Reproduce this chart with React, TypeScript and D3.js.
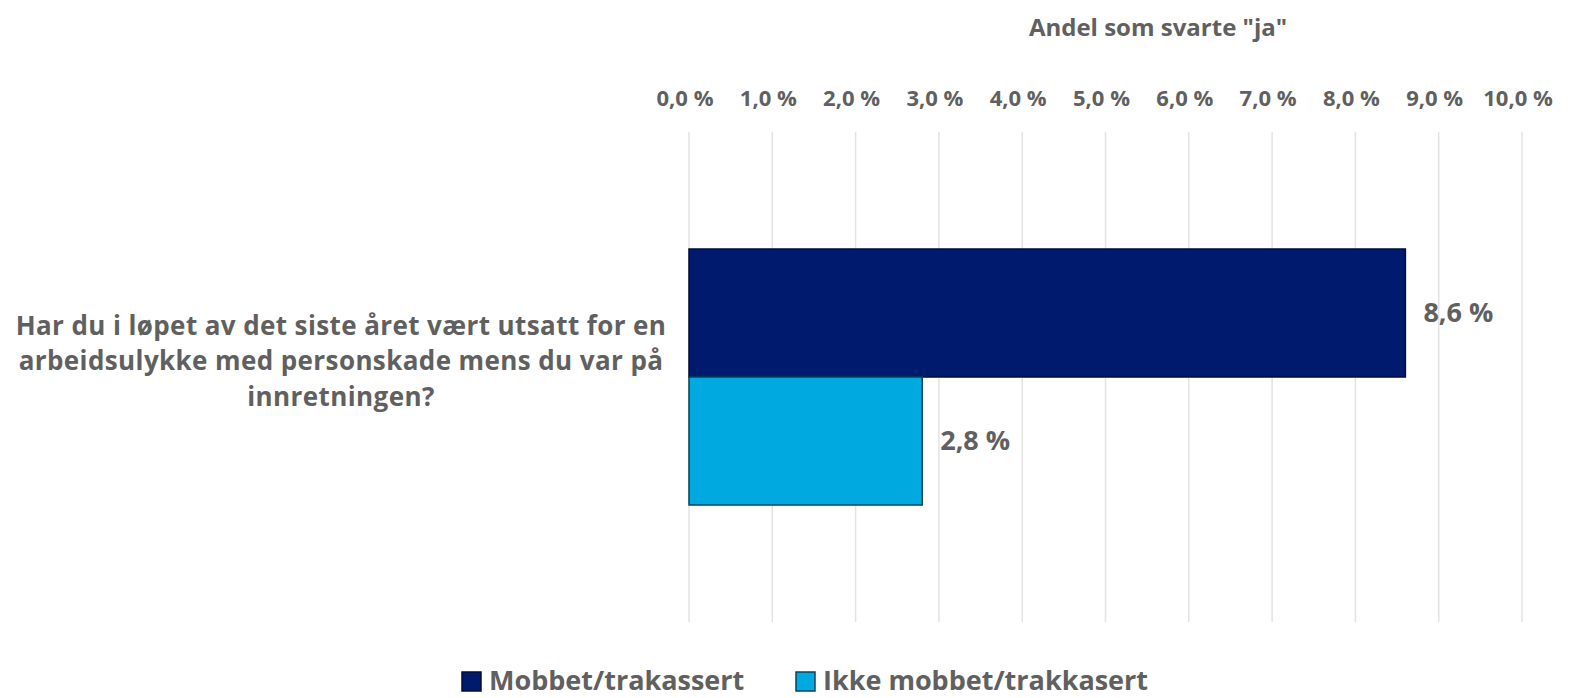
import * as d3 from "d3";

const categories = ["Har du i løpet av det siste året vært utsatt for en arbeidsulykke med personskade mens du var på innretningen?"];
const categoryLines = [["Har du i løpet av det siste året vært utsatt for en", "arbeidsulykke med personskade mens du var på", "innretningen?"]];
const seriesNames = ["Mobbet/trakassert", "Ikke mobbet/trakkasert"];
const seriesValues = [[8.6], [2.8]];
const seriesColors = ["#001a6e", "#00a9e0"];
const seriesStroke = ["#000d3d", "#00465e"];
const xTicks = [0, 1, 2, 3, 4, 5, 6, 7, 8, 9, 10];
const axisTitle = "Andel som svarte \"ja\"";

const width = 1572;
const height = 698;
const margin = {top: 132, right: 50, bottom: 76, left: 689};
const font = "'Open Sans', Lato, sans-serif";
const textColor = "#606060";
const lineStep = 35.5;

const fmt = (v: number) => v.toFixed(1).replace(".", ",") + " %";

export default function App() {
    const x = d3.scaleLinear([0, 10], [margin.left, width - margin.right]);
    const y = d3.scaleBand(categories, [margin.top, height - margin.bottom])
        .paddingInner(0)
        .paddingOuter(0.457);
    const ySub = d3.scaleBand(seriesNames.map((_, i) => i), [0, y.bandwidth()]);

    return <div style={{position: "absolute", left: 0, top: 0}}>
        <svg width={width} height={height} viewBox={`0 0 ${width} ${height}`}
             style={{display: "block", background: "#fff"}} fontFamily={font} fontWeight="bold">
            <text x={1158} y={28} dy="0.35em" textAnchor="middle" fontSize={24} fill={textColor}>{axisTitle}</text>
            {xTicks.map(t => <g key={t}>
                <line x1={x(t)} x2={x(t)} y1={margin.top} y2={height - margin.bottom} stroke="#e3e3e3" strokeWidth={1.5}/>
                <text x={x(t) - 4} y={98} dy="0.35em" textAnchor="middle" fontSize={22} fill={textColor}>{fmt(t)}</text>
            </g>)}
            {categories.map((c, ci) => <g key={c}>
                {seriesValues.map((vals, si) => {
                    const y0 = (y(c) ?? 0) + (ySub(si) ?? 0);
                    return <g key={si}>
                        <rect x={x(0)} y={y0} width={x(vals[ci]) - x(0)} height={ySub.bandwidth()}
                              fill={seriesColors[si]} stroke={seriesStroke[si]} strokeWidth={1.5}/>
                        <text x={x(vals[ci]) + 18} y={y0 + ySub.bandwidth() / 2} dy="0.35em" fontSize={27}
                              fill={textColor}>{fmt(vals[ci])}</text>
                    </g>;
                })}
                <text textAnchor="middle" fontSize={26} letterSpacing={0.4} fill={textColor}
                      y={(y(c) ?? 0) + y.bandwidth() / 2 - 1.45 * lineStep}>
                    {categoryLines[ci].map((line, li) =>
                        <tspan key={li} x={341} dy={li === 0 ? "0.35em" : lineStep}>{line}</tspan>)}
                </text>
            </g>)}
            {seriesNames.map((s, i) => {
                const lx = [462, 796][i];
                return <g key={s}>
                    <rect x={lx} y={672} width={19} height={19} fill={seriesColors[i]} stroke={seriesStroke[i]} strokeWidth={1.5}/>
                    <text x={lx + 27} y={690} fontSize={27} fill={textColor}>{s}</text>
                </g>;
            })}
        </svg>
    </div>;
}
